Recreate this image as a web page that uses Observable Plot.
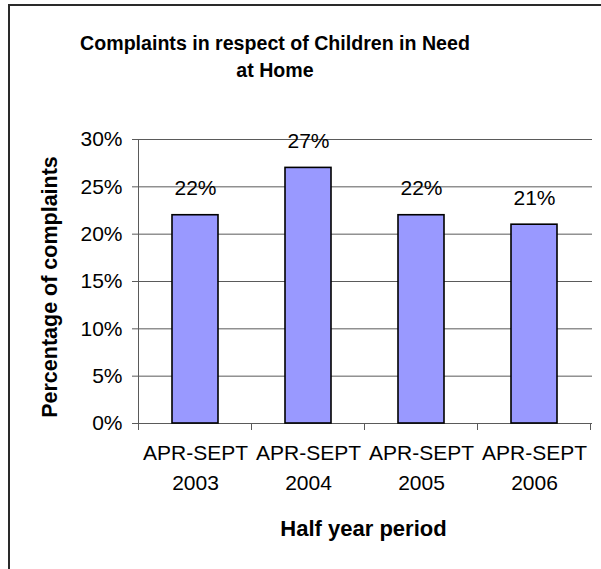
<!DOCTYPE html>
<html>
<head>
<meta charset="utf-8">
<script src="https://cdn.jsdelivr.net/npm/d3@7"></script>
<script src="https://cdn.jsdelivr.net/npm/@observablehq/plot@0.6"></script>
<style>
  html, body { margin: 0; padding: 0; background: #fff; }
  #wrap { position: relative; width: 601px; height: 569px; overflow: hidden; font-family: Arial, "Liberation Sans", sans-serif; background: #fff; }
  #title { position: absolute; left: 0; width: 550px; top: 30px; text-align: center; font-weight: bold; font-size: 19.6px; line-height: 27px; color: #000; }
  #chart { position: absolute; left: 0; top: 0; }
</style>
</head>
<body>
<div id="wrap">
  <div id="chart"></div>
  <div id="title">Complaints in respect of Children in Need<br>at Home</div>
</div>
<script>
const periods = ["APR-SEPT 2003", "APR-SEPT 2004", "APR-SEPT 2005", "APR-SEPT 2006"];
const shares = [0.22, 0.27, 0.22, 0.21];
const yTicks = [0, 0.05, 0.10, 0.15, 0.20, 0.25, 0.30];
const xTitle = "Half year period";
const yTitle = "Percentage of complaints";

const data = periods.map((p, i) => ({period: p, value: shares[i]}));
const pct = d3.format(".0%");

const chart = Plot.plot({
  width: 601,
  height: 569,
  marginLeft: 138,
  marginRight: 9,
  marginTop: 139,
  marginBottom: 146,
  style: {fontFamily: "Arial, 'Liberation Sans', sans-serif", fontSize: "21px", background: "transparent", color: "#000", overflow: "visible"},
  x: {domain: periods, paddingInner: 0.59, paddingOuter: 0.295, axis: null},
  y: {domain: [0, 0.30], axis: null},
  marks: [
    Plot.gridY(yTicks.filter(d => d > 0), {stroke: "#5a5a5a", strokeOpacity: 1, strokeWidth: 1}),
    Plot.ruleY([0], {stroke: "#5a5a5a", strokeWidth: 1}),
    Plot.frame({anchor: "left", stroke: "#5a5a5a", strokeWidth: 1}),
    Plot.axisY(yTicks, {tickFormat: pct, tickSize: 6, tickPadding: 10, fontSize: 21, label: null, stroke: "#5a5a5a"}),
    Plot.axisX({tickSize: 0, tickPadding: 15, fontSize: 21, lineHeight: 1.43, label: null,
      tickFormat: d => d.replace(" ", "\n")}),
    Plot.barY(data, {x: "period", y: "value", fill: "#9999FF", stroke: "#000", strokeWidth: 1.6}),
    Plot.text(data, {x: "period", y: "value", text: d => pct(d.value), dy: -20, lineAnchor: "bottom", fontSize: 21, fill: "#000"}),
    Plot.text([xTitle], {frameAnchor: "bottom", dx: -2, dy: 112, lineAnchor: "bottom", fontSize: 22, fontWeight: "bold", fill: "#000"}),
    Plot.text([yTitle], {frameAnchor: "left", textAnchor: "middle", lineAnchor: "middle", dx: -88.5, dy: 5.5, rotate: -90, fontSize: 21.5, fontWeight: "bold", fill: "#000"})
  ]
});

// Category boundary tick marks on the x axis, from the Plot scales
const xs = chart.scale("x");
const ys = chart.scale("y");
const y0 = ys.apply(0);
const half = (xs.step - xs.bandwidth) / 2;
const bounds = periods.map(p => xs.apply(p) - half);
bounds.push(xs.apply(periods[periods.length - 1]) + xs.bandwidth + half);
const svg = d3.select(chart);
svg.append("g")
  .selectAll("line").data(bounds).join("line")
  .attr("x1", d => d).attr("x2", d => d)
  .attr("y1", y0).attr("y2", y0 + 7)
  .attr("stroke", "#5a5a5a");

// Chart-area border (top and left edges, as in the reference)
svg.append("path")
  .attr("d", "M9,569V5H601")
  .attr("fill", "none")
  .attr("stroke", "#2a2a2a")
  .attr("stroke-width", 2);

document.getElementById("chart").appendChild(chart);
</script>
</body>
</html>
